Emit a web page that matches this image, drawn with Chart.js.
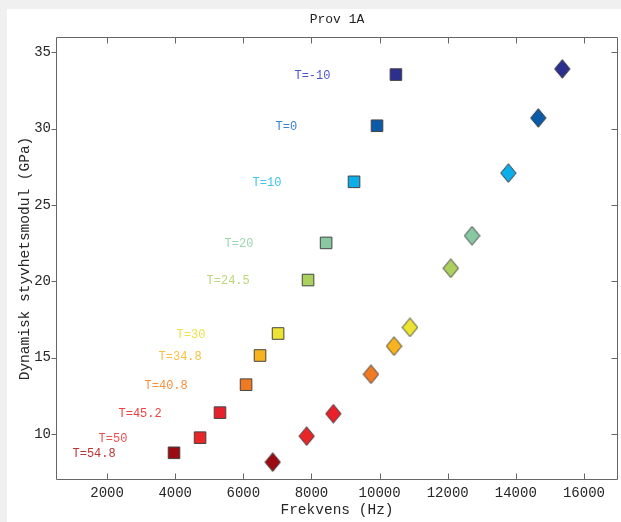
<!DOCTYPE html>
<html>
<head>
<meta charset="utf-8">
<script src="https://cdn.jsdelivr.net/npm/chart.js@4"></script>
<style>
  html, body { margin: 0; padding: 0; background: #f0f0f0; width: 621px; height: 522px; overflow: hidden; }
  #panel { position: absolute; left: 7px; top: 9px; width: 614px; height: 513px; background: #ffffff; }
  #c { position: absolute; left: 0; top: 0; }
</style>
</head>
<body>
<div id="panel"></div>
<canvas id="c" width="621" height="522"></canvas>
<script>
// ---- data ----
const temperatures = ['T=-10', 'T=0', 'T=10', 'T=20', 'T=24.5', 'T=30', 'T=34.8', 'T=40.8', 'T=45.2', 'T=50', 'T=54.8'];
const squareFreq   = [10480, 9925, 9250, 8430, 7900, 7020, 6490, 6080, 5315, 4730, 3965];
const squareMod    = [33.54, 30.19, 26.52, 22.52, 20.09, 16.59, 15.15, 13.24, 11.41, 9.77, 8.78];
const diamondFreq  = [15365, 14660, 13780, 12714, 12090, 10893, 10424, 9748, 8642, 7860, 6862];
const diamondMod   = [33.91, 30.70, 27.09, 22.99, 20.86, 16.99, 15.76, 13.92, 11.34, 9.87, 8.17];
const xTicks = [2000, 4000, 6000, 8000, 10000, 12000, 14000, 16000];
const yTicks = [10, 15, 20, 25, 30, 35];

// ---- styling ----
const markerColors = ['#2c2f8e', '#0b5aa8', '#0aaee8', '#88c9a1', '#acd05e', '#ece432', '#f8b41e', '#f07a22', '#e8202a', '#e82628', '#9c0a12'];
const labelColors  = ['#4b55c8', '#3a80d2', '#3cc4f2', '#9cd6b0', '#bcd67a', '#eee24a', '#f8c040', '#f8903e', '#f04040', '#ea5050', '#c03434'];
const LABEL_OFFSET = 2980; // Hz, text sits left of each square
const MONO = '"Liberation Mono", "DejaVu Sans Mono", monospace';

function diamondCanvas(color) {
  const cv = document.createElement('canvas');
  cv.width = 17; cv.height = 20;
  const g = cv.getContext('2d');
  g.beginPath();
  g.moveTo(8.5, 0.7);
  g.lineTo(16.2, 10);
  g.lineTo(8.5, 19.3);
  g.lineTo(0.8, 10);
  g.closePath();
  g.fillStyle = color;
  g.fill();
  g.lineWidth = 1;
  g.strokeStyle = '#3a3a3a';
  g.stroke();
  return cv;
}

const frame = {
  id: 'frame',
  afterDraw(chart) {
    const { ctx, chartArea: a, scales: { x, y } } = chart;
    ctx.save();
    ctx.strokeStyle = '#666666';
    ctx.lineWidth = 1;
    const L = Math.round(a.left) + 0.5, R = Math.round(a.right) - 0.5;
    const T = Math.round(a.top) + 0.5, B = Math.round(a.bottom) - 0.5;
    ctx.beginPath();
    ctx.rect(L, T, R - L, B - T);
    xTicks.forEach(v => {
      const px = Math.round(x.getPixelForValue(v)) + 0.5;
      ctx.moveTo(px, B); ctx.lineTo(px, B - 6);
      ctx.moveTo(px, T); ctx.lineTo(px, T + 6);
    });
    yTicks.forEach(v => {
      const py = Math.round(y.getPixelForValue(v)) + 0.5;
      ctx.moveTo(L, py); ctx.lineTo(L - 5, py);
      ctx.moveTo(R, py); ctx.lineTo(R - 6, py);
    });
    ctx.stroke();

    // temperature labels
    ctx.font = '12px ' + MONO;
    ctx.textAlign = 'left';
    ctx.textBaseline = 'middle';
    temperatures.forEach((t, i) => {
      ctx.fillStyle = labelColors[i];
      ctx.fillText(t, x.getPixelForValue(squareFreq[i] - LABEL_OFFSET), y.getPixelForValue(squareMod[i]) + 1);
    });

    // title
    ctx.font = '13px ' + MONO;
    ctx.textAlign = 'center';
    ctx.fillStyle = '#222222';
    ctx.fillText('Prov 1A', (a.left + a.right) / 2, 19.5);
    ctx.restore();
  }
};

new Chart(document.getElementById('c'), {
  type: 'scatter',
  data: {
    datasets: [
      {
        label: 'squares',
        data: squareFreq.map((f, i) => ({ x: f, y: squareMod[i] })),
        pointStyle: 'rect',
        pointRadius: 8.2,
        pointHoverRadius: 8.2,
        backgroundColor: markerColors,
        borderColor: '#444444',
        borderWidth: 1
      },
      {
        label: 'diamonds',
        data: diamondFreq.map((f, i) => ({ x: f, y: diamondMod[i] })),
        pointStyle: markerColors.map(diamondCanvas),
        pointRadius: 9,
        backgroundColor: markerColors,
        borderColor: '#3a3a3a'
      }
    ]
  },
  options: {
    responsive: false,
    animation: false,
    events: [],
    layout: { autoPadding: false, padding: { top: 37, right: 3, left: 0, bottom: 0 } },
    plugins: { legend: { display: false }, tooltip: { enabled: false }, title: { display: false } },
    scales: {
      x: {
        type: 'linear', min: 500, max: 17000,
        afterBuildTicks: s => { s.ticks = xTicks.map(v => ({ value: v })); },
        afterFit: s => { s.height = 42; s.paddingLeft = 0; s.paddingRight = 0; },
        grid: { display: false, drawTicks: false, tickLength: 0 },
        border: { display: false },
        ticks: { padding: 5, color: '#262626', font: { family: MONO, size: 14 }, maxRotation: 0, autoSkip: false, callback: v => String(v) },
        title: { display: true, text: 'Frekvens (Hz)', color: '#262626', font: { family: MONO, size: 14.5 }, padding: { top: 0, bottom: 3 } }
      },
      y: {
        type: 'linear', min: 7, max: 36,
        afterBuildTicks: s => { s.ticks = yTicks.map(v => ({ value: v })); },
        afterFit: s => { s.width = 56; s.paddingTop = 0; s.paddingBottom = 0; },
        grid: { display: false, drawTicks: false, tickLength: 0 },
        border: { display: false },
        ticks: { padding: 5, color: '#262626', font: { family: MONO, size: 14 }, autoSkip: false, callback: v => String(v) },
        title: { display: true, text: 'Dynamisk styvhetsmodul (GPa)', color: '#262626', font: { family: MONO, size: 14.5 }, padding: { top: 16, bottom: 0 } }
      }
    }
  },
  plugins: [frame]
});
</script>
</body>
</html>
